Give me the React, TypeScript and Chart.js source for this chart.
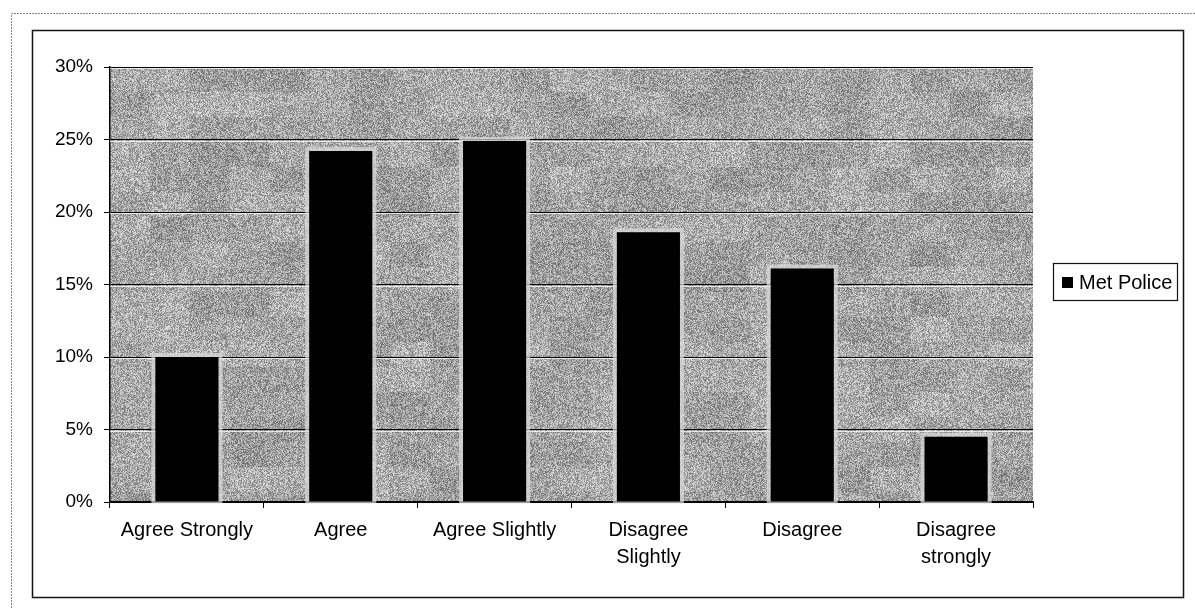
import React, { useEffect, useRef } from "react";
import { Chart, registerables } from "chart.js";

Chart.register(...registerables);

const categories: (string | string[])[] = [
  "Agree Strongly",
  "Agree",
  "Agree Slightly",
  ["Disagree", "Slightly"],
  "Disagree",
  ["Disagree", "strongly"],
];
const seriesName = "Met Police";
const metPolice = [10.0, 24.2, 24.9, 18.6, 16.1, 4.5];
const yMin = 0;
const yMax = 30;
const yStep = 5;

const FONT = "'Liberation Sans', Arial, sans-serif";

function hash(x: number, y: number): number {
  let h = (x * 374761393 + y * 668265263) | 0;
  h = (h ^ (h >>> 13)) * 1274126177;
  h = h ^ (h >>> 16);
  return ((h >>> 0) % 1000) / 1000;
}

const texturePlugin = {
  id: "texture",
  beforeDraw(chart: any) {
    const { ctx, chartArea } = chart;
    const w = Math.round(chartArea.right - chartArea.left);
    const h = Math.round(chartArea.bottom - chartArea.top);
    const off = document.createElement("canvas");
    off.width = w;
    off.height = h;
    const octx = off.getContext("2d")!;
    const img = octx.createImageData(w, h);
    for (let y = 0; y < h; y++) {
      for (let x = 0; x < w; x++) {
        const n = hash(x, y);
        const m = hash(Math.floor(x / 40), Math.floor(y / 25) + 999);
        const v = Math.max(0, Math.min(255, 165 + (n - 0.5) * 105 + (m - 0.5) * 25));
        const i = (y * w + x) * 4;
        img.data[i] = v;
        img.data[i + 1] = v;
        img.data[i + 2] = v;
        img.data[i + 3] = 255;
      }
    }
    octx.putImageData(img, 0, 0);
    ctx.save();
    ctx.fillStyle = "#ffffff";
    ctx.fillRect(0, 0, chart.width, chart.height);
    ctx.strokeStyle = "#888888";
    ctx.lineWidth = 1;
    ctx.setLineDash([2, 1]);
    ctx.beginPath();
    ctx.moveTo(11.5, chart.height);
    ctx.lineTo(11.5, 13.5);
    ctx.lineTo(chart.width, 13.5);
    ctx.stroke();
    ctx.setLineDash([]);
    ctx.strokeStyle = "#111111";
    ctx.lineWidth = 1.5;
    ctx.strokeRect(32.5, 30.5, 1151, 567);
    ctx.drawImage(off, chartArea.left, chartArea.top);
    ctx.restore();
  },
  beforeDatasetsDraw(chart: any) {
    const { ctx, chartArea } = chart;
    const yScale = chart.scales.y;
    ctx.save();
    ctx.strokeStyle = "rgba(255,255,255,0.75)";
    ctx.lineWidth = 1;
    yScale.ticks.forEach((t: any) => {
      if (t.value === yMin) return;
      const py = Math.round(yScale.getPixelForValue(t.value)) + 1.5;
      ctx.beginPath();
      ctx.moveTo(chartArea.left, py);
      ctx.lineTo(chartArea.right, py);
      ctx.stroke();
    });
    const meta = chart.getDatasetMeta(0);
    ctx.strokeStyle = "rgba(220,220,220,0.7)";
    ctx.lineWidth = 4;
    meta.data.forEach((bar: any) => {
      const x0 = bar.x - bar.width / 2 - 2;
      const top = bar.y - 2;
      const bw = bar.width + 4;
      const bh = bar.base - bar.y + 2;
      ctx.strokeRect(x0, top, bw, bh);
    });
    ctx.restore();
  },
  afterDraw(chart: any) {
    const { ctx } = chart;
    const ds = chart.data.datasets[0];
    ctx.save();
    ctx.fillStyle = "#ffffff";
    ctx.fillRect(1053, 263, 124, 37);
    ctx.strokeStyle = "#111111";
    ctx.lineWidth = 1.2;
    ctx.strokeRect(1053.5, 263.5, 124, 37);
    ctx.fillStyle = ds.backgroundColor;
    ctx.fillRect(1062, 277, 11, 11);
    ctx.fillStyle = "#000000";
    ctx.font = `20px ${FONT}`;
    ctx.textBaseline = "middle";
    ctx.textAlign = "left";
    ctx.fillText(ds.label, 1079, 283);
    ctx.restore();
  },
};

export default function App() {
  const ref = useRef<HTMLCanvasElement | null>(null);
  useEffect(() => {
    if (!ref.current) return;
    const chart = new Chart(ref.current, {
      type: "bar",
      data: {
        labels: categories,
        datasets: [
          {
            label: seriesName,
            data: metPolice,
            backgroundColor: "#000000",
            borderWidth: 0,
            categoryPercentage: 1,
            barPercentage: 0.41,
          },
        ],
      },
      options: {
        responsive: false,
        animation: false,
        devicePixelRatio: 1,
        layout: { padding: { top: 67, right: 162, left: 0, bottom: 0 } },
        plugins: {
          legend: { display: false },
          tooltip: { enabled: false },
        },
        scales: {
          x: {
            offset: true,
            grid: {
              offset: true,
              drawOnChartArea: false,
              drawTicks: true,
              tickLength: 6,
              color: "#000000",
            },
            border: { display: true, color: "#000000", width: 1.5 },
            ticks: {
              color: "#000000",
              font: { family: FONT, size: 20, lineHeight: 27 / 20 },
              padding: 9,
              maxRotation: 0,
              autoSkip: false,
            },
            afterFit(scale: any) {
              scale.height = 106;
            },
          },
          y: {
            min: yMin,
            max: yMax,
            grid: {
              color: "#000000",
              lineWidth: 1,
              drawTicks: true,
              tickLength: 6,
            },
            border: { display: true, color: "#000000", width: 1.5 },
            ticks: {
              stepSize: yStep,
              color: "#000000",
              font: { family: FONT, size: 19 },
              padding: 11,
              callback: (v: any) => `${v}%`,
            },
            afterFit(scale: any) {
              scale.width = 110;
            },
          },
        },
      },
      plugins: [texturePlugin],
    });
    return () => chart.destroy();
  }, []);
  return (
    <div style={{ position: "fixed", left: 0, top: 0, width: 1195, height: 608, background: "#fff" }}>
      <canvas ref={ref} width={1195} height={608} style={{ display: "block" }} />
    </div>
  );
}
